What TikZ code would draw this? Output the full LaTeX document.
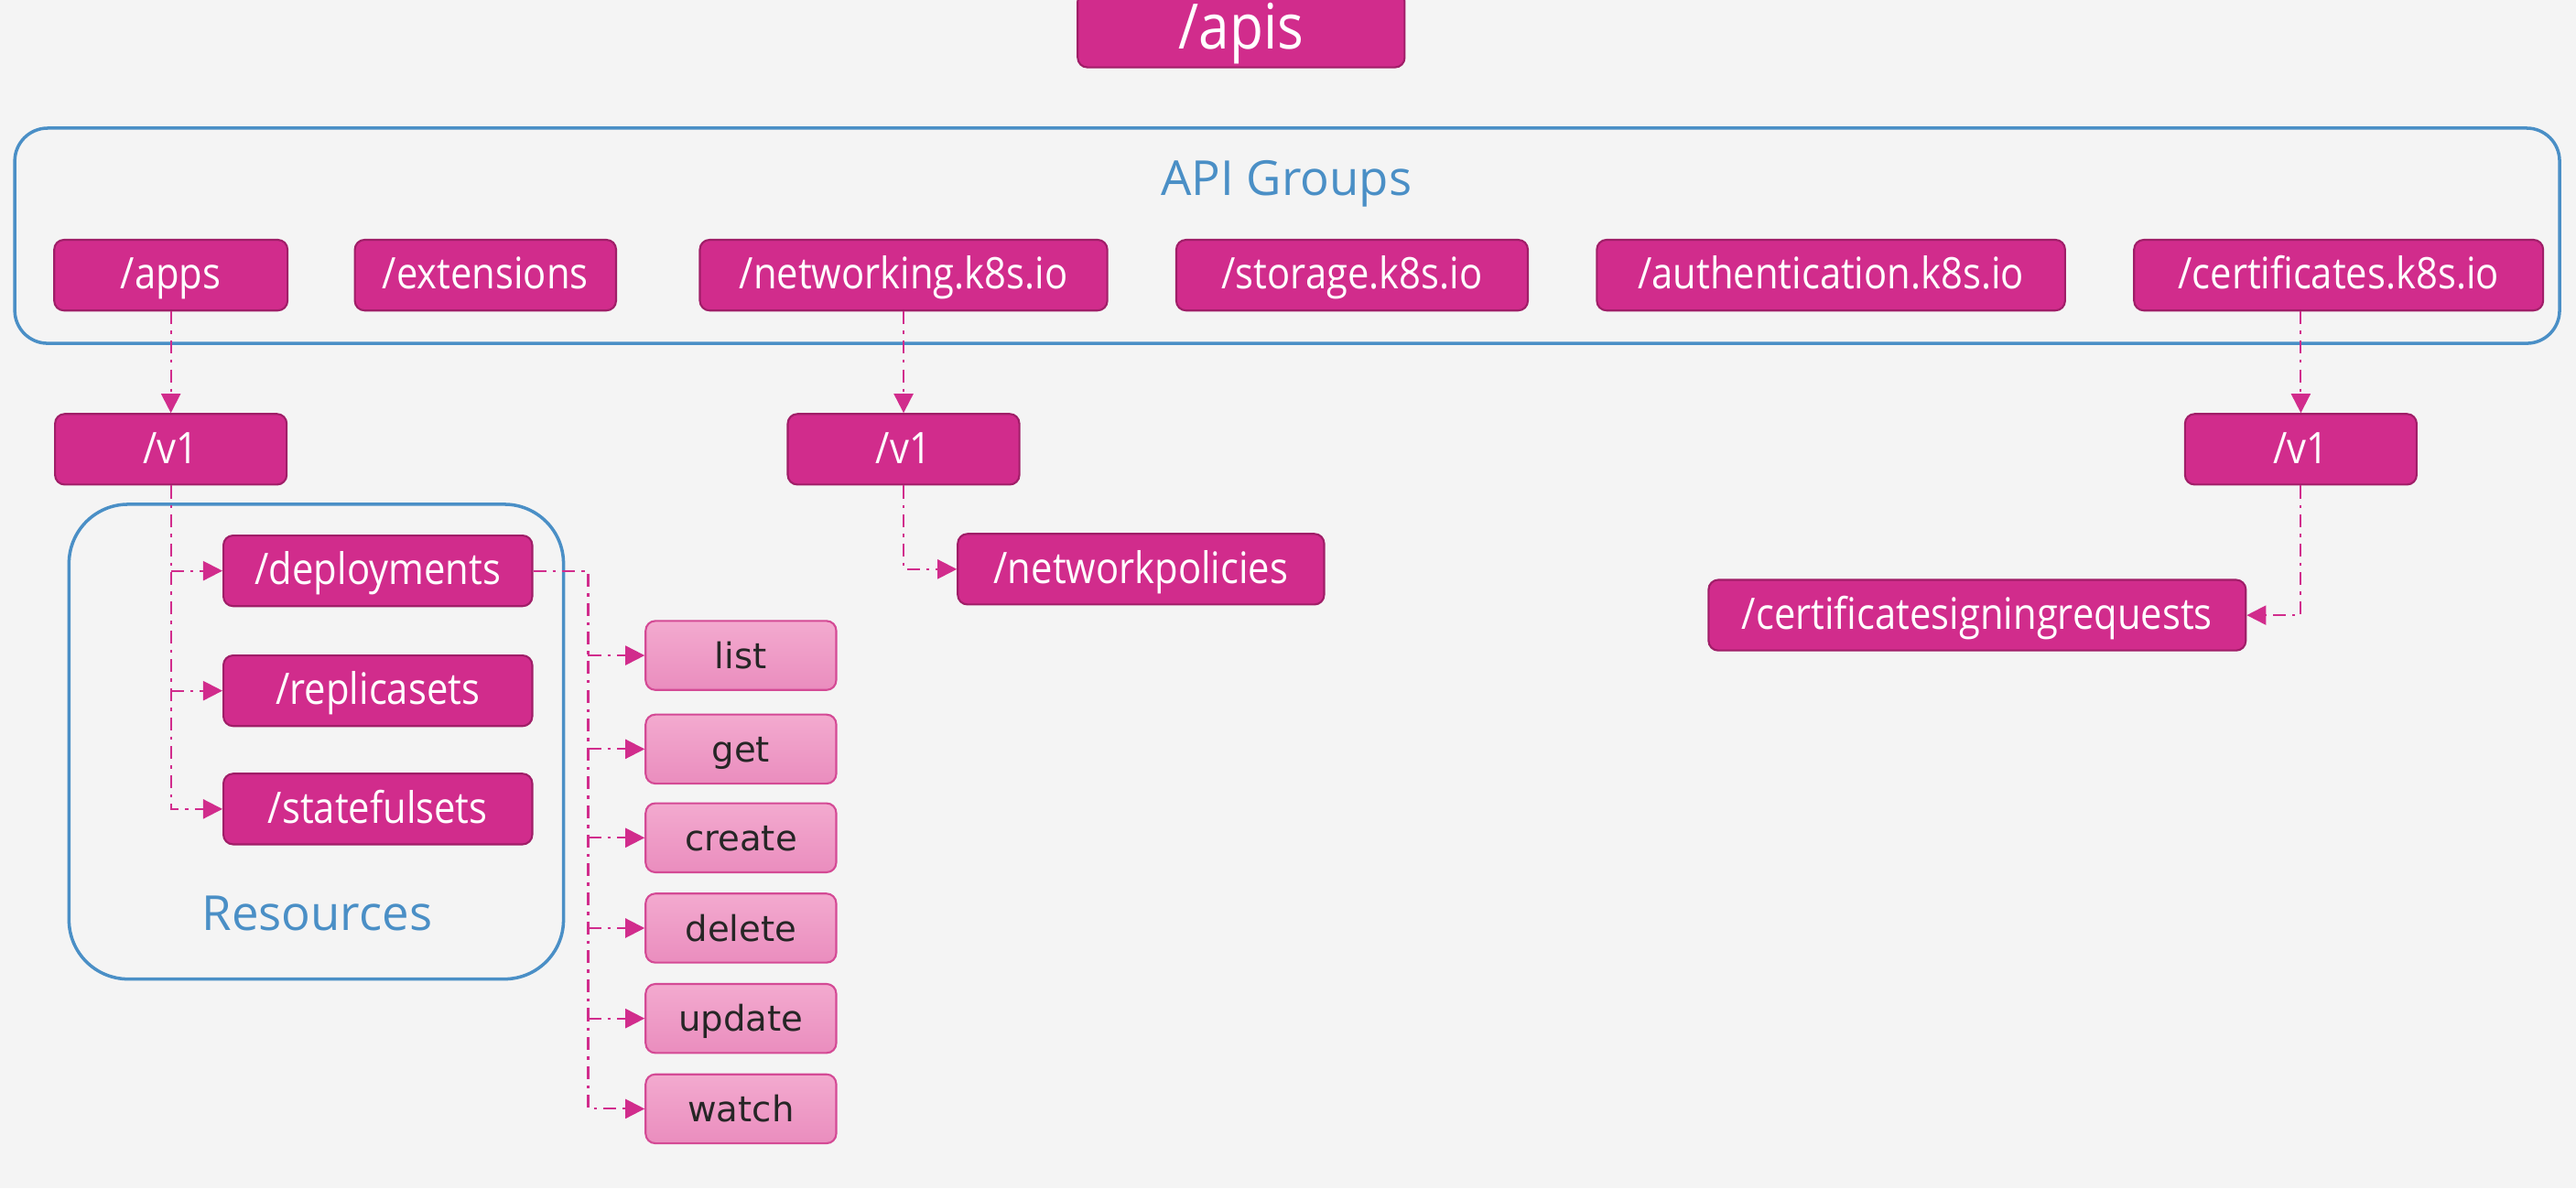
\documentclass[tikz,border=0pt]{standalone}
\usepackage{fontspec}
\setmainfont{Open Sans}
\newfontfamily\narrowfont[FakeStretch=0.88]{Open Sans}
\newfontfamily\verbfont{DejaVu Sans}
\usetikzlibrary{arrows.meta}

\definecolor{kmag}{HTML}{D12C8C}
\definecolor{kmagdark}{HTML}{A01E68}
\definecolor{kpinktop}{HTML}{F3AACF}
\definecolor{kpinkbot}{HTML}{EA8DBE}
\definecolor{kpinkline}{HTML}{D44A95}
\definecolor{kblue}{HTML}{4A8FC6}
\definecolor{kbg}{HTML}{F4F4F4}

\tikzset{
  api/.style={draw=kmagdark, fill=kmag, text=white, rounded corners=3pt, line width=0.6pt,
    inner sep=0pt, minimum height=43*\px, text height=10pt, text depth=1.3pt,
    font=\narrowfont\fontsize{13.5}{16}\selectfont},
  verb/.style={draw=kpinkline, top color=kpinktop, bottom color=kpinkbot, text=black!85,
    rounded corners=3pt, line width=0.6pt, inner sep=0pt, minimum width=116*\px,
    minimum height=42*\px, text height=9pt, text depth=1pt,
    font=\verbfont\fontsize{11}{13}\selectfont},
  panel/.style={draw=kblue, line width=1pt, inner sep=0pt},
  paneltitle/.style={text=kblue, font=\fontsize{15}{18}\selectfont},
  link/.style={draw=kmag, line width=0.6pt, dash pattern=on 4pt off 2pt on 1pt off 2pt},
  tip/.style={-{Triangle[length=6pt,width=6pt]}, kmag}
}

\begin{document}
\begin{tikzpicture}[x=0.017946cm, y=-0.017946cm]
\def\px{0.017946cm}

\useasboundingbox[fill=kbg] (0,0) rectangle (1568,723.3);

% panels
\node[panel, rounded corners=20*\px, minimum width=1549*\px, minimum height=131*\px] (groups) at (783.5,143.5) {};
\node[panel, rounded corners=36*\px, minimum width=301*\px, minimum height=289*\px] (res) at (192.5,451.5) {};
\node[paneltitle] (groupstitle) at (783,112) {API Groups};
\node[paneltitle] (restitle) at (193,556) {Resources};

% top
\node[api, minimum width=199*\px, minimum height=46*\px, text height=14pt, text depth=2pt,
  font=\narrowfont\fontsize{19.5}{24}\selectfont] (apis) at (755.5,18) {/apis};

% groups
\foreach \n/\x/\w/\t in {apps/104/142/apps, ext/295.5/159/extensions, net/550/248/networking.k8s.io,
    stor/823/214/storage.k8s.io, auth/1114.5/285/authentication.k8s.io, cert/1423.5/249/certificates.k8s.io}
  \node[api, minimum width=\w*\px] (\n) at (\x,167.5) {/\t};

% versions
\foreach \n/\x in {v1a/104, v1n/550, v1c/1400.5}
  \node[api, minimum width=141*\px] (\n) at (\x,273.5) {/v1};

% resources
\foreach \n/\y/\t in {deploy/347.5/deployments, replica/420.5/replicasets, stateful/492.5/statefulsets}
  \node[api, minimum width=188*\px] (\n) at (230,\y) {/\t};
\node[api, minimum width=223*\px] (netpol) at (694.5,346.5) {/networkpolicies};
\node[api, minimum width=327*\px] (csr) at (1203.5,374.5) {/certificatesigningrequests};

% verbs
\foreach \v/\y in {list/399, get/456, create/510, delete/565, update/620, watch/675}
  \node[verb] (\v) at (451,\y) {\v};
\coordinate (bus) at (358,347.5);

% links
\draw[link,tip] (apps) -- (v1a);
\draw[link,tip] (net) -- (v1n);
\draw[link,tip] (v1c.north |- cert.south) -- (v1c);
\draw[link,tip] (v1a.south) |- (stateful.west);
\foreach \r in {deploy, replica} \draw[link,tip] (v1a.south |- \r.west) -- (\r.west);
\draw[link,tip] (v1n.south) |- (netpol.west);
\draw[link,tip] (v1c.south) |- (csr.east);
\draw[link,tip] (deploy.east) -- (bus) |- (watch.west);
\foreach \v in {list, get, create, delete, update} \draw[link,tip] (bus |- \v.west) -- (\v.west);
\end{tikzpicture}
\end{document}
